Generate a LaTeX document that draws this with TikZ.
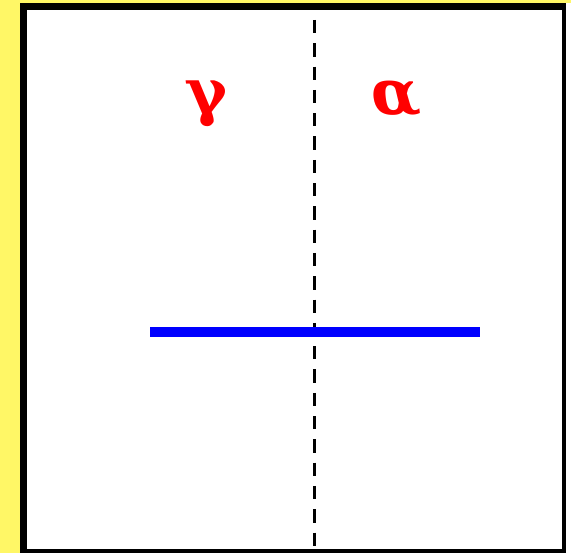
\documentclass[tikz,border=0pt]{standalone}
\usepackage{fontspec}
\setmainfont{Liberation Serif}
\newfontfamily\greekfont[FakeSlant=-0.12]{DejaVu Serif Bold}
\begin{document}
\begin{tikzpicture}[x=1pt,y=-1pt,
  greek/.style={text=red,font=\greekfont\fontsize{63}{63}\selectfont,inner sep=0pt}]
\useasboundingbox (0,0) rectangle (571,553);
\fill[yellow!60!white] (0,0) rectangle (571,553);
\fill[white] (566,3) rectangle (571,553);
\fill[black] (20,3) rectangle (566,553);
\fill[white] (27,10) rectangle (562,549);
\coordinate (dtop) at (314.5,20);
\coordinate (dbot) at (314.5,553);
\draw[line width=3pt,dash pattern=on 13.3pt off 10pt] (dtop) -- (dbot);
\coordinate (bl) at (150,332);
\coordinate (br) at (480,332);
\draw[blue,line width=10pt] (bl) -- (br);
\node[greek] (g) at (209,104) {γ};
\node[greek] (a) at (398,99) {α};
\end{tikzpicture}
\end{document}
